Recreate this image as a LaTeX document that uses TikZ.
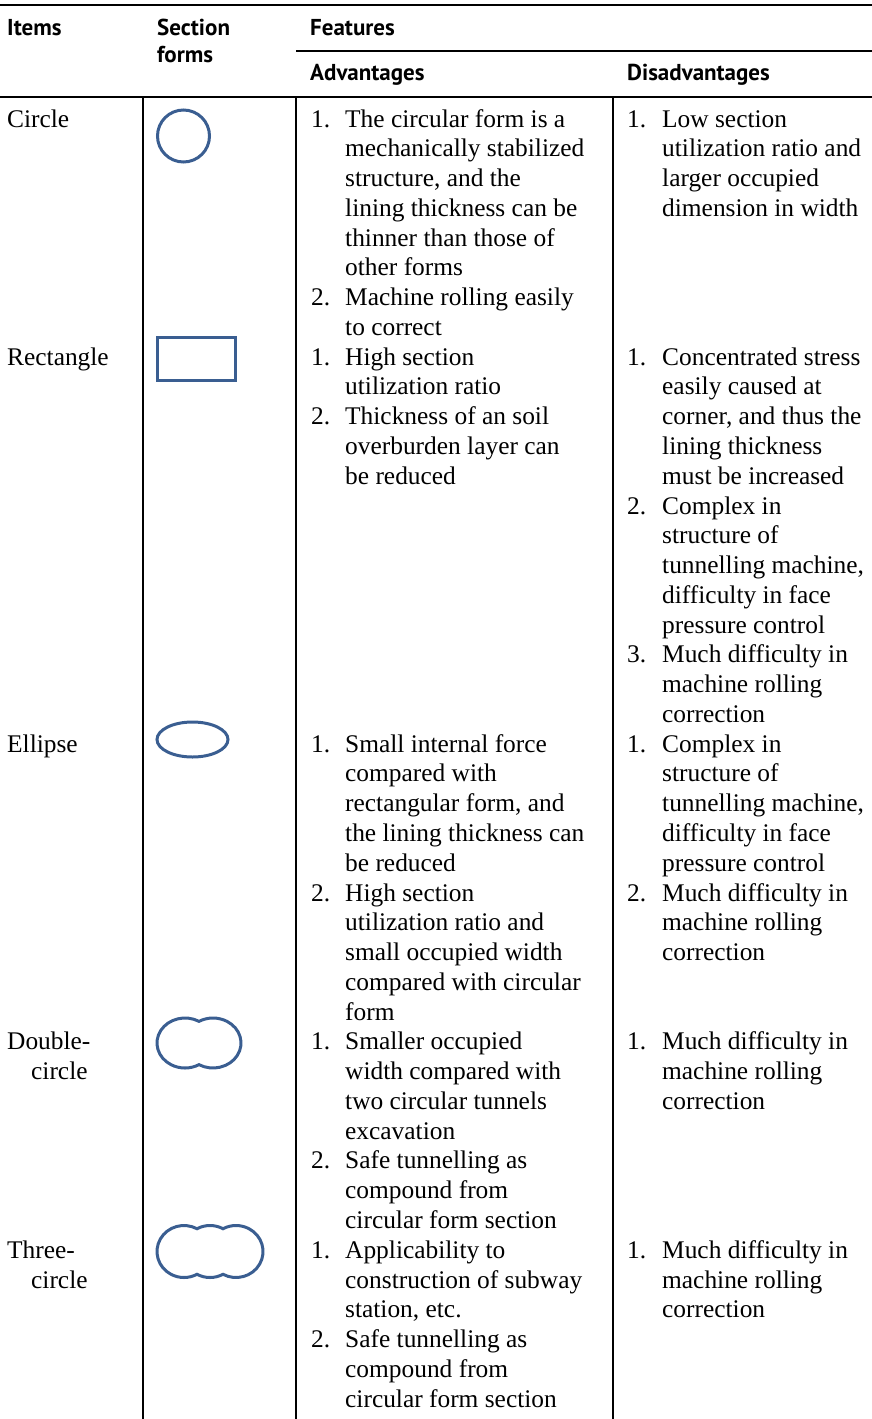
\documentclass[tikz,border=0pt]{standalone}
\usepackage{fontspec}
\newfontfamily\myBodyFam{Liberation Serif}
\newfontfamily\myHeadFam{PT Sans}
\newcommand\myBody{\myBodyFam\fontsize{25.4}{29.77}\selectfont}
\newcommand\myHead{\myHeadFam\bfseries\fontsize{23}{27}\selectfont}
\definecolor{shapeblue}{RGB}{58,94,145}
\tikzset{
  txt/.style={anchor=base west, inner sep=0pt, font=\myBody},
  hd/.style={anchor=base west, inner sep=0pt, font=\myHead},
  shp/.style={draw=shapeblue, line width=3pt},
  hrule/.style={line width=2.4pt},
  thinrule/.style={line width=1.8pt},
  vrule/.style={line width=1.8pt}
}
\newcommand\putlines[4]{%
  \foreach \lnText [count=\lnIdx from #3] in {#4} {%
    \node[txt] (#1\lnIdx) at (#2,{-(127+29.77*\lnIdx)}) {\lnText};}}
\newcommand\putnum[4]{\node[txt] (#1) at (#2,{-(127+29.77*#3)}) {#4};}
\begin{document}
\begin{tikzpicture}[x=1pt,y=1pt]
\useasboundingbox (0,0) rectangle (872,-1419);
% rules
\coordinate (tl) at (0,-5); \coordinate (tr) at (872,-5);
\coordinate (fl) at (296,-51); \coordinate (fr) at (872,-51);
\coordinate (bl) at (0,-97); \coordinate (br) at (872,-97);
\draw[hrule] (tl) -- (tr);
\draw[thinrule] (fl) -- (fr);
\draw[hrule] (bl) -- (br);
\coordinate (v1t) at (143,-97); \coordinate (v1b) at (143,-1419);
\coordinate (v2t) at (296,-97); \coordinate (v2b) at (296,-1419);
\coordinate (v3t) at (613,-97); \coordinate (v3b) at (613,-1419);
\draw[vrule] (v1t) -- (v1b);
\draw[vrule] (v2t) -- (v2b);
\draw[vrule] (v3t) -- (v3b);
% header
\node[hd] (hItems) at (7,-35) {Items};
\node[hd] (hSec) at (157,-35) {Section};
\node[hd] (hForms) at (157,-62) {forms};
\node[hd] (hFeat) at (310,-35) {Features};
\node[hd] (hAdv) at (310,-80) {Advantages};
\node[hd] (hDis) at (627,-80) {Disadvantages};
% items
\putnum{it0}{7}{0}{Circle}
\putnum{it8}{7}{8}{Rectangle}
\putnum{it21}{7}{21}{Ellipse}
\putnum{it31}{7}{31}{Double-}
\putnum{it32}{31}{32}{circle}
\putnum{it38}{7}{38}{Three-}
\putnum{it39}{31}{39}{circle}
% shapes
\draw[shp] (183.5,-136) circle[radius=26];
\draw[shp] (157,-337) rectangle (235,-380);
\draw[shp] (192.5,-739.5) ellipse[x radius=35.5, y radius=17.5];
\draw[shp] (185,-1043) ++(60:28 and 25)
  arc[start angle=60, end angle=300, x radius=28, y radius=25]
  arc[start angle=240, end angle=480, x radius=28, y radius=25] -- cycle;
\draw[shp] (184,-1251.5) ++(61.2:27 and 26)
  arc[start angle=61.2, end angle=298.8, x radius=27, y radius=26]
  arc[start angle=241.2, end angle=298.8, x radius=27, y radius=26]
  arc[start angle=241.2, end angle=478.8, x radius=27, y radius=26]
  arc[start angle=61.2, end angle=118.8, x radius=27, y radius=26] -- cycle;
% advantages numbers
\putnum{an0}{311}{0}{1.}
\putnum{an6}{311}{6}{2.}
\putnum{an8}{311}{8}{1.}
\putnum{an10}{311}{10}{2.}
\putnum{an21}{311}{21}{1.}
\putnum{an26}{311}{26}{2.}
\putnum{an31}{311}{31}{1.}
\putnum{an35}{311}{35}{2.}
\putnum{an38}{311}{38}{1.}
\putnum{an41}{311}{41}{2.}
% advantages text
\putlines{adv}{345}{0}{The circular form is a, mechanically stabilized, {structure, and the}, lining thickness can be, thinner than those of, other forms, Machine rolling easily, to correct, High section, utilization ratio, Thickness of an soil, overburden layer can, be reduced}
\putlines{adv}{345}{21}{Small internal force, compared with, {rectangular form, and}, the lining thickness can, be reduced, High section, utilization ratio and, small occupied width, compared with circular, form, Smaller occupied, width compared with, two circular tunnels, excavation, Safe tunnelling as, compound from, circular form section, Applicability to, construction of subway, {station, etc.}, Safe tunnelling as, compound from, circular form section}
% disadvantages numbers
\putnum{dn0}{627}{0}{1.}
\putnum{dn8}{627}{8}{1.}
\putnum{dn13}{627}{13}{2.}
\putnum{dn18}{627}{18}{3.}
\putnum{dn21}{627}{21}{1.}
\putnum{dn26}{627}{26}{2.}
\putnum{dn31}{627}{31}{1.}
\putnum{dn38}{627}{38}{1.}
% disadvantages text
\putlines{dis}{662}{0}{Low section, utilization ratio and, larger occupied, dimension in width}
\putlines{dis}{662}{8}{Concentrated stress, easily caused at, {corner, and thus the}, lining thickness, must be increased, Complex in, structure of, {tunnelling machine,}, difficulty in face, pressure control, Much difficulty in, machine rolling, correction, Complex in, structure of, {tunnelling machine,}, difficulty in face, pressure control, Much difficulty in, machine rolling, correction}
\putlines{dis}{662}{31}{Much difficulty in, machine rolling, correction}
\putlines{dis}{662}{38}{Much difficulty in, machine rolling, correction}
\end{tikzpicture}
\end{document}
